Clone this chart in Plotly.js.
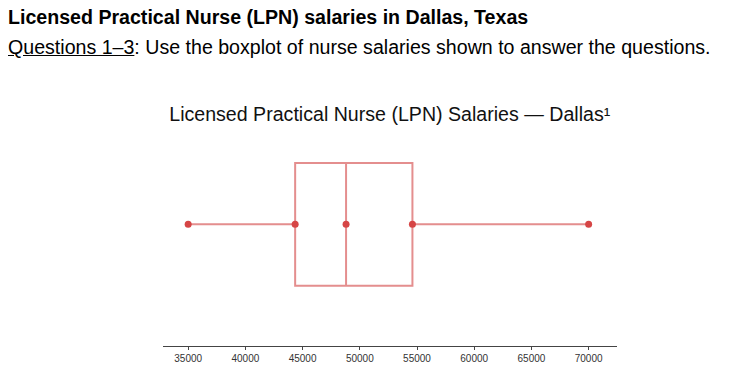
<!DOCTYPE html>
<html>
<head>
<meta charset="utf-8">
<script src="https://cdn.plot.ly/plotly-3.0.1.min.js"></script>
<style>
  html, body { margin: 0; padding: 0; background: #fff; }
  #wrap { position: relative; width: 734px; height: 389px; overflow: hidden; }
  #chart { position: absolute; left: 0; top: 0; width: 734px; height: 389px; }
  .hdr { position: absolute; left: 8px; font-family: "Liberation Sans", Arial, sans-serif; color: #000; white-space: nowrap; line-height: 1; }
  #h1 { top: 8px; font-size: 19.6px; font-weight: bold; }
  #h2 { top: 38px; font-size: 19.6px; }
</style>
</head>
<body>
<div id="wrap">
  <div id="chart"></div>
  <div class="hdr" id="h1">Licensed Practical Nurse (LPN) salaries in Dallas, Texas</div>
  <div class="hdr" id="h2"><u>Questions 1–3</u>: Use the boxplot of nurse salaries shown to answer the questions.</div>
</div>
<script>
// Five-number summary (USD)
const statLabels = ["Minimum", "Q1", "Median", "Q3", "Maximum"];
const salaryMin = 35000;
const salaryQ1 = 44350;
const salaryMedian = 48800;
const salaryQ3 = 54600;
const salaryMax = 70000;
const tickValues = [35000, 40000, 45000, 50000, 55000, 60000, 65000, 70000];
const tickLabels = ["35000", "40000", "45000", "50000", "55000", "60000", "65000", "70000"];

const lineColor = "rgba(214,82,82,0.65)";
const pointColor = "#d64545";
const xRange = [32800, 72480];

const boxTrace = {
  type: "box",
  orientation: "h",
  y: [0],
  lowerfence: [salaryMin],
  q1: [salaryQ1],
  median: [salaryMedian],
  q3: [salaryQ3],
  upperfence: [salaryMax],
  width: 1.3,
  whiskerwidth: 0,
  fillcolor: "rgba(0,0,0,0)",
  line: { color: lineColor, width: 2 },
  hoverinfo: "x",
  showlegend: false
};

const pointTrace = {
  type: "scatter",
  mode: "markers",
  x: [salaryMin, salaryQ1, salaryMedian, salaryQ3, salaryMax],
  y: [0, 0, 0, 0, 0],
  text: statLabels,
  marker: { color: pointColor, size: 7 },
  hoverinfo: "text+x",
  showlegend: false
};

const layout = {
  width: 734,
  height: 389,
  margin: { l: 163, r: 117, t: 130, b: 43, pad: 0 },
  paper_bgcolor: "#fff",
  plot_bgcolor: "#fff",
  font: { family: "Liberation Sans, Arial, sans-serif", color: "#222" },
  title: {
    text: "Licensed Practical Nurse (LPN) Salaries — Dallas¹",
    font: { size: 19.6, color: "#111", family: "Liberation Sans, Arial, sans-serif" },
    x: 0.531,
    xanchor: "center",
    y: 0.706,
    yanchor: "middle",
    yref: "container"
  },
  xaxis: {
    range: xRange,
    tickvals: tickValues,
    ticktext: tickLabels,
    ticks: "outside",
    ticklen: 3,
    tickcolor: "#444",
    tickwidth: 1,
    showline: true,
    linecolor: "#444",
    linewidth: 1,
    showgrid: false,
    zeroline: false,
    tickfont: { size: 10, color: "#333" },
    fixedrange: true
  },
  xaxis2: {
    overlaying: "x",
    anchor: "y",
    side: "bottom",
    range: xRange,
    tickvals: tickValues,
    ticks: "inside",
    ticklen: 3,
    tickcolor: "#444",
    tickwidth: 1,
    showticklabels: false,
    showline: false,
    showgrid: false,
    zeroline: false,
    fixedrange: true
  },
  yaxis: {
    range: [-1.29, 1],
    visible: false,
    showgrid: false,
    zeroline: false,
    fixedrange: true
  },
  showlegend: false
};

Plotly.newPlot("chart", [boxTrace, pointTrace], layout, { displayModeBar: false, staticPlot: true });
</script>
</body>
</html>
